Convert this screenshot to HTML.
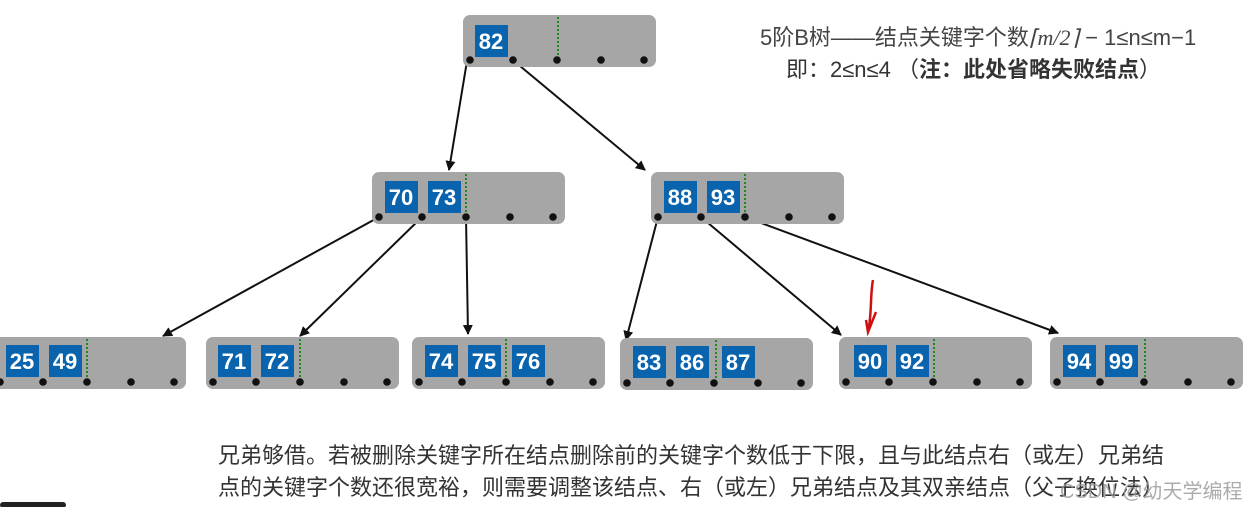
<!DOCTYPE html>
<html><head><meta charset="utf-8"><style>
body{margin:0;width:1248px;height:507px;background:#fff;overflow:hidden;position:relative;font-family:"Liberation Sans","Noto Sans CJK SC",sans-serif}
.t{position:absolute;white-space:nowrap}
</style></head><body>
<svg width="1248" height="507" style="position:absolute;left:0;top:0" font-family="Liberation Sans, sans-serif">
<defs>
<marker id="a" markerWidth="10" markerHeight="10" refX="9" refY="5" orient="auto" markerUnits="userSpaceOnUse"><path d="M0,0 L10,5 L0,10 z" fill="#111"/></marker>
<g id="nd"><rect x="0" y="0" width="193" height="52" rx="7" fill="#a6a6a6"/>
<circle cx="7" cy="45" r="3.8" fill="#111"/><circle cx="50" cy="45" r="3.8" fill="#111"/><circle cx="94" cy="45" r="3.8" fill="#111"/><circle cx="138" cy="45" r="3.8" fill="#111"/><circle cx="181" cy="45" r="3.8" fill="#111"/></g>
</defs>
<g stroke="#111" stroke-width="2" marker-end="url(#a)">
<line x1="467" y1="61" x2="449" y2="170"/>
<line x1="514" y1="61" x2="645" y2="170"/>
<line x1="379" y1="217" x2="163" y2="336"/>
<line x1="422" y1="217" x2="300" y2="336"/>
<line x1="466" y1="217" x2="468" y2="334"/>
<line x1="658" y1="217" x2="626" y2="340"/>
<line x1="701" y1="217" x2="841" y2="335"/>
<line x1="745" y1="217" x2="1058" y2="333"/>
</g>
<g font-size="22" font-weight="bold" fill="#fff" text-anchor="middle">
<use href="#nd" x="463" y="15"/>
<rect x="475" y="25" width="33" height="32" fill="#0a64ad"/><text x="491" y="49">82</text>
<line x1="558" y1="17" x2="558" y2="57" stroke="#1a8a1a" stroke-width="2" stroke-dasharray="2,2"/>
<use href="#nd" x="372" y="172"/>
<rect x="385" y="181" width="33" height="32" fill="#0a64ad"/><text x="401" y="205">70</text>
<rect x="428" y="181" width="33" height="32" fill="#0a64ad"/><text x="444" y="205">73</text>
<line x1="466" y1="174" x2="466" y2="214" stroke="#1a8a1a" stroke-width="2" stroke-dasharray="2,2"/>
<use href="#nd" x="651" y="172"/>
<rect x="664" y="181" width="33" height="32" fill="#0a64ad"/><text x="680" y="205">88</text>
<rect x="707" y="181" width="33" height="32" fill="#0a64ad"/><text x="723" y="205">93</text>
<line x1="745" y1="174" x2="745" y2="214" stroke="#1a8a1a" stroke-width="2" stroke-dasharray="2,2"/>
<use href="#nd" x="-7" y="337"/>
<rect x="6" y="345" width="33" height="32" fill="#0a64ad"/><text x="22" y="369">25</text>
<rect x="49" y="345" width="33" height="32" fill="#0a64ad"/><text x="65" y="369">49</text>
<line x1="87" y1="339" x2="87" y2="379" stroke="#1a8a1a" stroke-width="2" stroke-dasharray="2,2"/>
<use href="#nd" x="206" y="337"/>
<rect x="218" y="345" width="33" height="32" fill="#0a64ad"/><text x="234" y="369">71</text>
<rect x="261" y="345" width="33" height="32" fill="#0a64ad"/><text x="277" y="369">72</text>
<line x1="300" y1="339" x2="300" y2="379" stroke="#1a8a1a" stroke-width="2" stroke-dasharray="2,2"/>
<use href="#nd" x="412" y="337"/>
<rect x="425" y="345" width="33" height="32" fill="#0a64ad"/><text x="441" y="369">74</text>
<rect x="468" y="345" width="33" height="32" fill="#0a64ad"/><text x="484" y="369">75</text>
<rect x="512" y="345" width="33" height="32" fill="#0a64ad"/><text x="528" y="369">76</text>
<line x1="506" y1="339" x2="506" y2="379" stroke="#1a8a1a" stroke-width="2" stroke-dasharray="2,2"/>
<use href="#nd" x="620" y="338"/>
<rect x="633" y="346" width="33" height="32" fill="#0a64ad"/><text x="649" y="370">83</text>
<rect x="676" y="346" width="33" height="32" fill="#0a64ad"/><text x="692" y="370">86</text>
<rect x="722" y="346" width="33" height="32" fill="#0a64ad"/><text x="738" y="370">87</text>
<line x1="716" y1="340" x2="716" y2="380" stroke="#1a8a1a" stroke-width="2" stroke-dasharray="2,2"/>
<use href="#nd" x="839" y="337"/>
<rect x="854" y="345" width="33" height="32" fill="#0a64ad"/><text x="870" y="369">90</text>
<rect x="896" y="345" width="33" height="32" fill="#0a64ad"/><text x="912" y="369">92</text>
<line x1="934" y1="339" x2="934" y2="379" stroke="#1a8a1a" stroke-width="2" stroke-dasharray="2,2"/>
<use href="#nd" x="1050" y="337"/>
<rect x="1063" y="345" width="33" height="32" fill="#0a64ad"/><text x="1079" y="369">94</text>
<rect x="1105" y="345" width="33" height="32" fill="#0a64ad"/><text x="1121" y="369">99</text>
<line x1="1145" y1="339" x2="1145" y2="379" stroke="#1a8a1a" stroke-width="2" stroke-dasharray="2,2"/>
</g>
<path d="M873,280 C870,295 872,315 868,332 M866,320 L868,332 L876,312" stroke="#d01010" stroke-width="2.5" fill="none"/>
<rect x="0" y="502" width="66" height="6" rx="3" fill="#222"/>
</svg>
<div class="t" style="left:760px;top:20px;font-size:22px;color:#444">5阶B树——结点关键字个数<span style="font-family:'Liberation Serif',serif;font-style:italic">⌈m/2⌉</span> − 1≤n≤m−1</div>
<div class="t" style="left:786px;top:52px;font-size:22px;color:#333">即：2≤n≤4 （<b>注：此处省略失败结点</b>）</div>
<div class="t" style="left:218px;top:438px;font-size:22px;color:#333">兄弟够借。若被删除关键字所在结点删除前的关键字个数低于下限，且与此结点右（或左）兄弟结</div>
<div class="t" style="left:218px;top:470px;font-size:22px;color:#333">点的关键字个数还很宽裕，则需要调整该结点、右（或左）兄弟结点及其双亲结点（父子换位法）</div>
<div class="t" style="left:1060px;top:475px;font-size:20px;color:rgba(150,150,150,0.8)">CSDN @幼天学编程</div>
</body></html>
